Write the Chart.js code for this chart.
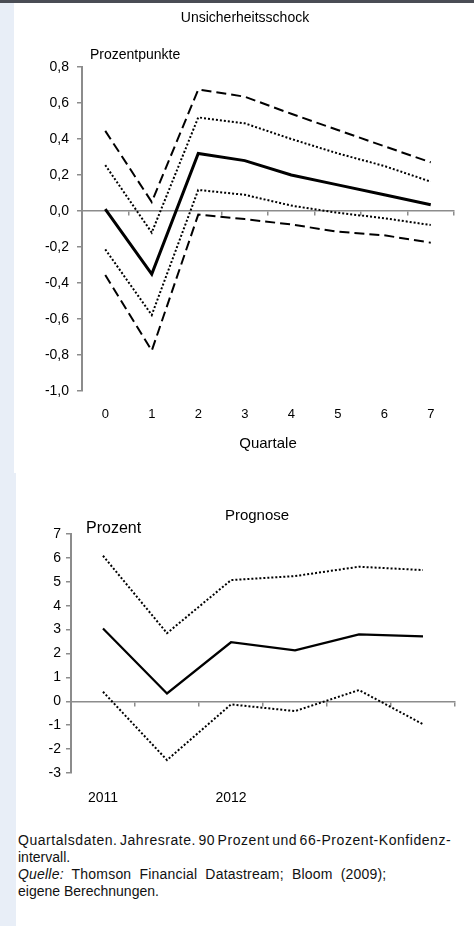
<!DOCTYPE html>
<html>
<head>
<meta charset="utf-8">
<script src="https://cdn.jsdelivr.net/npm/chart.js@4.4.1/dist/chart.umd.min.js"></script>
<style>
  html, body { margin: 0; padding: 0; background: #fff; }
  body { width: 474px; height: 926px; position: relative; overflow: hidden;
         font-family: "Liberation Sans", Arial, sans-serif; }
  #topline { position: absolute; left: 0; top: 0; width: 474px; height: 3px; background: #4a4d55; }
  #strip1 { position: absolute; left: 0; top: 3px; width: 14px; height: 470px; background: #e8eef7; }
  #strip2 { position: absolute; left: 0; top: 473px; width: 16px; height: 453px; background: #e8eef7; }
  #c1 { position: absolute; left: 16px; top: 3px; }
  #c2 { position: absolute; left: 40px; top: 480px; }
  #note { position: absolute; left: 18px; top: 832px; width: 456px; font-size: 14px; line-height: 17px; color: #111; }
  #note div { white-space: nowrap; }
  #note .l1 { letter-spacing: 0.55px; word-spacing: -2px; }
  #note .l3 { letter-spacing: 0.2px; word-spacing: 4px; }
</style>
</head>
<body>
<div id="topline"></div>
<div id="strip1"></div>
<div id="strip2"></div>
<canvas id="c1" width="458" height="467"></canvas>
<canvas id="c2" width="434" height="330"></canvas>
<div id="note">
  <div class="l1">Quartalsdaten. Jahresrate. 90 Prozent und 66-Prozent-Konfidenz-</div>
  <div>intervall.</div>
  <div class="l3"><i>Quelle:</i> Thomson Financial Datastream; Bloom (2009);</div>
  <div>eigene Berechnungen.</div>
</div>
<script>
// Unsicherheitsschock: Impuls-Antwort, Quartale 0..7
var quartale = ["0", "1", "2", "3", "4", "5", "6", "7"];
var schockMitte   = [0.01, -0.35, 0.32, 0.28, 0.20, 0.145, 0.09, 0.035];
var schockOben90  = [0.445, 0.05, 0.675, 0.635, 0.54, 0.45, 0.36, 0.27];
var schockOben66  = [0.255, -0.12, 0.52, 0.487, 0.40, 0.32, 0.25, 0.163];
var schockUnten66 = [-0.213, -0.578, 0.117, 0.09, 0.03, -0.01, -0.04, -0.078];
var schockUnten90 = [-0.355, -0.776, -0.02, -0.045, -0.075, -0.115, -0.135, -0.176];

// Prognose: Quartale ab 2011
var prognoseQuartale = ["2011 Q3", "2011 Q4", "2012 Q1", "2012 Q2", "2012 Q3", "2012 Q4"];
var prognoseTicks    = ["2011", "", "2012", "", "", ""];
var prognoseMitte = [3.05, 0.33, 2.47, 2.13, 2.80, 2.72];
var prognoseOben  = [6.09, 2.85, 5.07, 5.24, 5.63, 5.49];
var prognoseUnten = [0.40, -2.46, -0.13, -0.41, 0.47, -0.96];

var FONT = "'Liberation Sans', Arial, sans-serif";
var GRAU = "#8c8c8c";

function linie(daten, breite, dash) {
    return {
        data: daten,
        borderColor: "#000",
        borderWidth: breite,
        borderDash: dash,
        borderCapStyle: "butt",
        pointRadius: 0,
        tension: 0,
        fill: false
    };
}

// Einheit ueber der y-Achse
var einheitPlugin = {
    id: "einheit",
    afterDraw: function (chart, args, opts) {
        var ctx = chart.ctx;
        ctx.save();
        ctx.font = opts.size + "px " + FONT;
        ctx.fillStyle = "#000";
        ctx.textBaseline = "middle";
        ctx.fillText(opts.text, chart.chartArea.left + opts.dx, chart.chartArea.top + opts.dy);
        ctx.restore();
    }
};

function fixBreite(w) { return function (scale) { scale.width = w; }; }
function fixHoehe(h) { return function (scale) { scale.height = h; }; }

// leere Achse rechts, damit der Titel ueber der ganzen Flaeche zentriert bleibt
function rechtsLeer(w) {
    return {
        position: "right",
        grid: { display: false },
        border: { display: false },
        ticks: { display: false },
        afterFit: fixBreite(w)
    };
}

// ---------- oberes Diagramm ----------
new Chart(document.getElementById("c1").getContext("2d"), {
    type: "line",
    data: {
        labels: quartale,
        datasets: [
            linie(schockMitte, 3, []),
            linie(schockOben90, 2, [10, 5]),
            linie(schockOben66, 2, [2, 2]),
            linie(schockUnten66, 2, [2, 2]),
            linie(schockUnten90, 2, [10, 5])
        ]
    },
    plugins: [einheitPlugin],
    options: {
        responsive: false,
        animation: false,
        devicePixelRatio: 1,
        layout: { padding: 0 },
        plugins: {
            legend: { display: false },
            tooltip: { enabled: false },
            title: {
                display: true,
                text: "Unsicherheitsschock",
                color: "#000",
                font: { family: FONT, size: 14, weight: "normal" },
                padding: { top: 6.6, bottom: 40.6 }
            },
            einheit: { text: "Prozentpunkte", size: 14, dx: 8, dy: -12 }
        },
        scales: {
            x: {
                type: "category",
                offset: true,
                grid: { display: false, drawTicks: false },
                border: { display: false },
                ticks: { color: "#000", padding: 15.4, font: { family: FONT, size: 13 } },
                title: {
                    display: true, text: "Quartale", color: "#000",
                    font: { family: FONT, size: 15 }, padding: { top: 0, bottom: 17 }
                },
                afterFit: fixHoehe(79)
            },
            x0: {
                type: "category",
                position: { y: 0 },
                offset: true,
                grid: { display: true, drawOnChartArea: false, drawTicks: true, tickLength: 4, offset: true, color: GRAU, lineWidth: 1.5 },
                border: { display: true, color: GRAU, width: 1.5 },
                ticks: { display: false }
            },
            y: {
                min: -1, max: 0.8,
                ticks: {
                    stepSize: 0.2, color: "#000", padding: 8,
                    font: { family: FONT, size: 14 },
                    callback: function (v) { return v.toFixed(1).replace(".", ","); }
                },
                grid: { display: true, drawOnChartArea: false, tickLength: 5, color: GRAU, lineWidth: 1.5 },
                border: { display: true, color: GRAU, width: 2 },
                afterFit: fixBreite(66)
            },
            yR: rechtsLeer(20)
        }
    }
});

// ---------- unteres Diagramm ----------
new Chart(document.getElementById("c2").getContext("2d"), {
    type: "line",
    data: {
        labels: prognoseQuartale,
        datasets: [
            linie(prognoseMitte, 2.2, []),
            linie(prognoseOben, 2, [2, 2]),
            linie(prognoseUnten, 2, [2, 2])
        ]
    },
    plugins: [einheitPlugin],
    options: {
        responsive: false,
        animation: false,
        devicePixelRatio: 1,
        layout: { padding: 0 },
        plugins: {
            legend: { display: false },
            tooltip: { enabled: false },
            title: {
                display: true,
                text: "Prognose",
                color: "#000",
                font: { family: FONT, size: 15, weight: "normal" },
                padding: { top: 27, bottom: 9 }
            },
            einheit: { text: "Prozent", size: 16, dx: 15, dy: -5 }
        },
        scales: {
            x: {
                type: "category",
                offset: true,
                grid: { display: false, drawTicks: false },
                border: { display: false },
                ticks: {
                    color: "#000", padding: 16.6, autoSkip: false, maxRotation: 0,
                    font: { family: FONT, size: 14 },
                    callback: function (v, i) { return prognoseTicks[i]; }
                },
                afterFit: fixHoehe(37)
            },
            x0: {
                type: "category",
                position: { y: 0 },
                offset: true,
                grid: { display: true, drawOnChartArea: false, drawTicks: true, tickLength: 4, offset: true, color: GRAU, lineWidth: 1.5 },
                border: { display: true, color: GRAU, width: 1.5 },
                ticks: { display: false }
            },
            y: {
                min: -3, max: 7,
                ticks: {
                    stepSize: 1, color: "#000", padding: 5,
                    font: { family: FONT, size: 14 }
                },
                grid: { display: true, drawOnChartArea: false, tickLength: 5, color: GRAU, lineWidth: 1.5 },
                border: { display: true, color: GRAU, width: 2 },
                afterFit: fixBreite(31)
            },
            yR: rechtsLeer(19)
        }
    }
});
</script>
</body>
</html>
